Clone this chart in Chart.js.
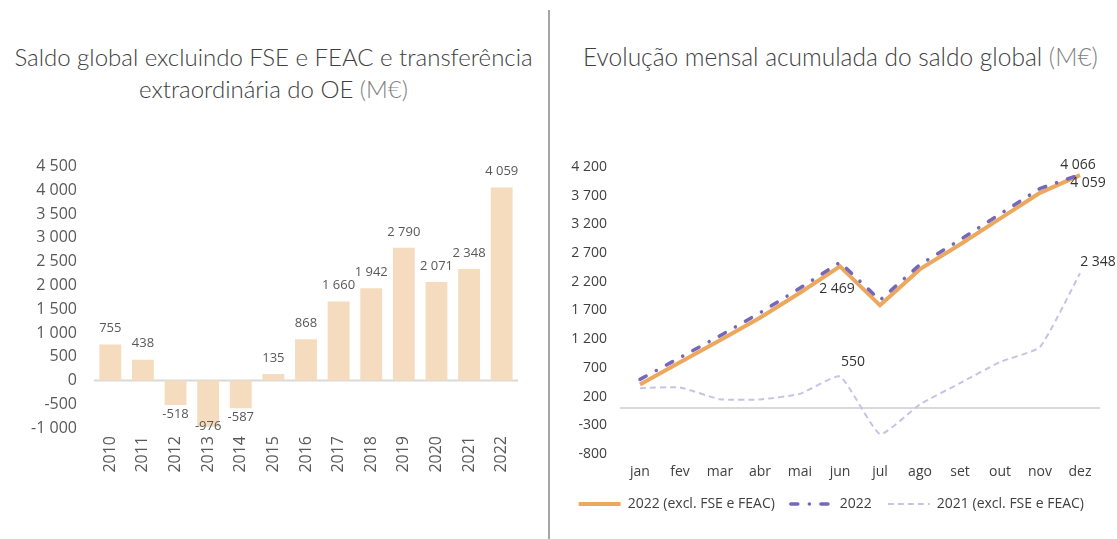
<!DOCTYPE html>
<html>
<head>
<meta charset="utf-8">
<script src="https://cdn.jsdelivr.net/npm/chart.js@4/dist/chart.umd.min.js"></script>
<style>
  html, body { margin:0; padding:0; background:#fff; }
  body { width:1117px; height:539px; position:relative; overflow:hidden; font-family:"Open Sans", sans-serif; }
  .title { position:absolute; text-align:center; font-family:Lato, sans-serif; font-weight:300; font-size:24px; line-height:32px; color:#404040; white-space:nowrap; }
  .title .u { color:#808080; }
  #divider { position:absolute; left:548px; top:10px; width:2px; height:529px; background:#a6a6a6; }
  canvas { position:absolute; }
</style>
</head>
<body>
<div class="title" style="left:0; width:547px; top:41px;">Saldo global excluindo FSE e FEAC e transferência<br>extraordinária do OE <span class="u">(M€)</span></div>
<div class="title" style="left:562px; width:557px; top:41px; font-size:24.5px;">Evolução mensal acumulada do saldo global <span class="u">(M€)</span></div>
<div id="divider"></div>
<canvas id="c1" width="540" height="350" style="left:0; top:140px;"></canvas>
<canvas id="c2" width="562" height="400" style="left:555px; top:140px;"></canvas>
<script>
// ---- data ----
const years = ['2010','2011','2012','2013','2014','2015','2016','2017','2018','2019','2020','2021','2022'];
const saldoAnual = [755, 438, -518, -976, -587, 135, 868, 1660, 1942, 2790, 2071, 2348, 4059];

const months = ['jan','fev','mar','abr','mai','jun','jul','ago','set','out','nov','dez'];
const excl2022 = [410, 800, 1180, 1575, 2010, 2469, 1790, 2420, 2850, 3300, 3750, 4059];
const total2022 = [500, 880, 1260, 1660, 2090, 2540, 1880, 2500, 2930, 3380, 3826, 4066];
const excl2021 = [347, 360, 154, 150, 248, 550, -453, 66, 434, 802, 1066, 2348];

const leftTicks = { min: -1000, max: 4500, step: 500 };
const rightTicks = { min: -800, max: 4200, step: 500 };

const fmt = v => {
  const s = Math.abs(Math.round(v)).toString().replace(/\B(?=(\d{3})+(?!\d))/g, ' ');
  return (v < 0 ? '-' : '') + s;
};

// zero line plugin
const zeroLine = {
  id: 'zeroLine',
  beforeDatasetsDraw(chart) {
    const y = chart.scales.y.getPixelForValue(0);
    const a = chart.chartArea;
    const ctx = chart.ctx;
    ctx.save();
    ctx.strokeStyle = '#d9d9d9';
    ctx.lineWidth = 2;
    ctx.beginPath();
    ctx.moveTo(a.left, y);
    ctx.lineTo(a.right, y);
    ctx.stroke();
    ctx.restore();
  }
};

// bar value labels
const barLabels = {
  id: 'barLabels',
  afterDatasetsDraw(chart) {
    const ctx = chart.ctx;
    const meta = chart.getDatasetMeta(0);
    const data = chart.data.datasets[0].data;
    const bottom = chart.chartArea.bottom;
    ctx.save();
    ctx.font = '13px "Open Sans"';
    ctx.fillStyle = '#595959';
    ctx.textAlign = 'center';
    ctx.textBaseline = 'middle';
    meta.data.forEach((el, i) => {
      const v = data[i];
      let y;
      if (v >= 0) y = el.y - 16;
      else y = Math.min(el.y + 9, bottom - 2);
      ctx.fillText(fmt(v), el.x, y);
    });
    ctx.restore();
  }
};

new Chart(document.getElementById('c1'), {
  type: 'bar',
  data: {
    labels: years,
    datasets: [{
      data: saldoAnual,
      backgroundColor: '#f5dcbe',
      borderWidth: 0,
      categoryPercentage: 1,
      barPercentage: 0.67
    }]
  },
  options: {
    responsive: false,
    devicePixelRatio: 1,
    animation: false,
    layout: { padding: { top: 25, right: 22, left: 0, bottom: 0 } },
    plugins: { legend: { display: false }, tooltip: { enabled: false } },
    scales: {
      x: {
        grid: { display: false, drawTicks: false },
        border: { display: false },
        ticks: { minRotation: 90, maxRotation: 90, padding: 8, color: '#595959', font: { family: 'Open Sans', size: 16 } },
        afterFit(s) { s.height = 62; }
      },
      y: {
        min: leftTicks.min, max: leftTicks.max,
        grid: { display: false, drawTicks: false },
        border: { display: false },
        ticks: { stepSize: leftTicks.step, padding: 17, color: '#595959', font: { family: 'Open Sans', size: 16 }, callback: v => fmt(v) },
        afterFit(s) { s.width = 94; }
      }
    }
  },
  plugins: [zeroLine, barLabels]
});

// line value labels (dataset index, point index, offsets)
const lineLabelSpec = [
  { ds: 0, i: 5, dx: -3, dy: 23 },
  { ds: 2, i: 5, dx: 13, dy: -14 },
  { ds: 1, i: 11, dx: -2, dy: -10 },
  { ds: 0, i: 11, dx: 8, dy: 8 },
  { ds: 2, i: 11, dx: 18, dy: -11 }
];
const lineLabels = {
  id: 'lineLabels',
  afterDatasetsDraw(chart) {
    const ctx = chart.ctx;
    ctx.save();
    ctx.font = '14px "Open Sans"';
    ctx.fillStyle = '#333333';
    ctx.textAlign = 'center';
    ctx.textBaseline = 'middle';
    lineLabelSpec.forEach(s => {
      const el = chart.getDatasetMeta(s.ds).data[s.i];
      const v = chart.data.datasets[s.ds].data[s.i];
      ctx.fillText(fmt(v), el.x + s.dx, el.y + s.dy);
    });
    ctx.restore();
  }
};

new Chart(document.getElementById('c2'), {
  type: 'line',
  data: {
    labels: months,
    datasets: [
      {
        label: '2022 (excl. FSE e FEAC)',
        data: excl2022,
        borderColor: '#eba85e',
        backgroundColor: '#eba85e',
        borderWidth: 4,
        pointRadius: 0,
        tension: 0,
        order: 1
      },
      {
        label: '2022',
        data: total2022,
        borderColor: '#7767b8',
        backgroundColor: '#7767b8',
        borderWidth: 3.5,
        borderDash: [7, 11.5, 0.1, 11.5],
        borderCapStyle: 'round',
        pointRadius: 0,
        tension: 0,
        order: 0
      },
      {
        label: '2021 (excl. FSE e FEAC)',
        data: excl2021,
        borderColor: '#c8c3e6',
        backgroundColor: '#c8c3e6',
        borderWidth: 2,
        borderDash: [6, 4],
        pointRadius: 0,
        tension: 0.15,
        order: 2
      }
    ]
  },
  options: {
    responsive: false,
    devicePixelRatio: 1,
    animation: false,
    layout: { padding: { top: 27, right: 17, left: 0, bottom: 19 } },
    plugins: {
      tooltip: { enabled: false },
      legend: {
        position: 'bottom',
        align: 'end',
        labels: {
          usePointStyle: true,
          pointStyleWidth: 42,
          boxHeight: 14,
          padding: 16,
          color: '#404040',
          font: { family: 'Open Sans', size: 14 },
          generateLabels(chart) {
            return chart.data.datasets.map((ds, i) => ({
              text: ds.label,
              datasetIndex: i,
              fillStyle: ds.borderColor,
              strokeStyle: ds.borderColor,
              lineWidth: ds.borderWidth,
              lineDash: ds.borderDash || [],
              lineCap: ds.borderCapStyle || 'butt',
              pointStyle: 'line',
              hidden: false,
              fontColor: '#404040'
            }));
          }
        }
      }
    },
    scales: {
      x: {
        offset: true,
        grid: { display: false, drawTicks: false },
        border: { display: false },
        ticks: { padding: 10, color: '#404040', font: { family: 'Open Sans', size: 14 } },
        afterFit(s) { s.height = 27; }
      },
      y: {
        min: rightTicks.min, max: rightTicks.max,
        grid: { display: false, drawTicks: false },
        border: { display: false },
        ticks: { stepSize: rightTicks.step, padding: 13, color: '#404040', font: { family: 'Open Sans', size: 14 }, callback: v => fmt(v) },
        afterFit(s) { s.width = 65; }
      }
    }
  },
  plugins: [zeroLine, lineLabels]
});
</script>
</body>
</html>
